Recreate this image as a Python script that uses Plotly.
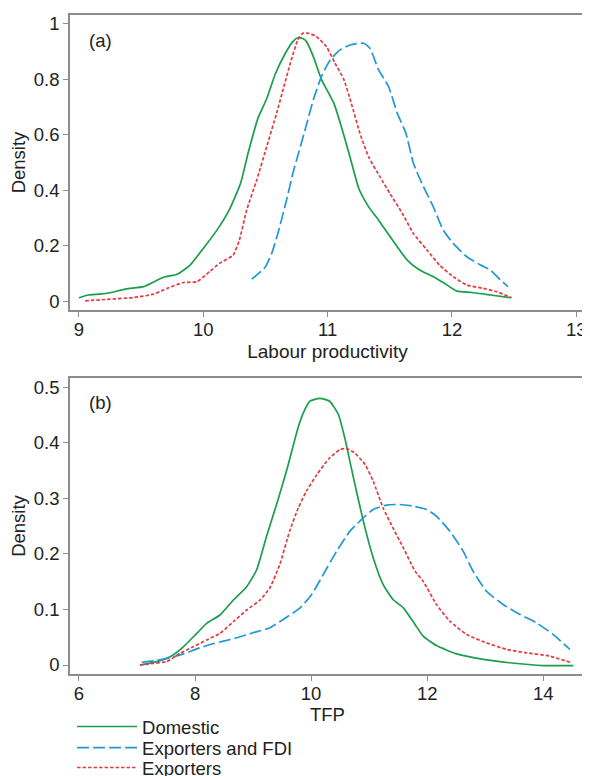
import plotly.graph_objects as go

# ---- Panel (a): Labour productivity ----
a_dom_x = [9.0, 9.075, 9.17, 9.25, 9.38, 9.52, 9.68, 9.79, 9.89, 10.0, 10.11, 10.21, 10.30, 10.36, 10.44, 10.51,
           10.58, 10.66, 10.72, 10.76, 10.80, 10.83, 10.885, 10.95, 11.05, 11.11, 11.18, 11.25, 11.33, 11.41,
           11.475, 11.56, 11.64, 11.74, 11.85, 11.94, 12.04, 12.16, 12.31, 12.47]
a_dom_y = [0.012, 0.022, 0.025, 0.03, 0.044, 0.052, 0.086, 0.097, 0.128, 0.19, 0.256, 0.33, 0.425, 0.533, 0.66, 0.73,
           0.82, 0.894, 0.936, 0.95, 0.947, 0.936, 0.882, 0.80, 0.714, 0.63, 0.52, 0.407, 0.34, 0.292,
           0.25, 0.196, 0.148, 0.112, 0.088, 0.064, 0.036, 0.031, 0.022, 0.012]

a_exp_x = [9.05, 9.25, 9.44, 9.6, 9.71, 9.84, 9.95, 10.05, 10.13, 10.24, 10.29, 10.35, 10.43, 10.51, 10.59, 10.64,
           10.70, 10.76, 10.80, 10.85, 10.91, 10.99, 11.06, 11.13, 11.19, 11.26, 11.33, 11.42, 11.50, 11.60,
           11.69, 11.80, 11.90, 12.01, 12.12, 12.25, 12.36, 12.48]
a_exp_y = [0.001, 0.007, 0.013, 0.025, 0.046, 0.067, 0.07, 0.106, 0.136, 0.166, 0.22, 0.33, 0.437, 0.557, 0.678, 0.76,
           0.858, 0.942, 0.966, 0.966, 0.954, 0.918, 0.858, 0.80, 0.714, 0.605, 0.52, 0.449, 0.389, 0.317,
           0.244, 0.184, 0.13, 0.088, 0.058, 0.046, 0.034, 0.012]

a_fdi_x = [10.39, 10.50, 10.55, 10.60, 10.67, 10.72, 10.77, 10.82, 10.885, 10.95, 11.02, 11.10, 11.18, 11.29, 11.34,
           11.41, 11.49, 11.56, 11.63, 11.69, 11.77, 11.85, 11.93, 12.01, 12.12, 12.23, 12.31, 12.39, 12.45]
a_fdi_y = [0.079, 0.124, 0.172, 0.244, 0.365, 0.46, 0.54, 0.62, 0.726, 0.81, 0.87, 0.906, 0.924, 0.93, 0.912,
           0.834, 0.774, 0.678, 0.605, 0.497, 0.413, 0.34, 0.256, 0.208, 0.16, 0.13, 0.112, 0.076, 0.052]

# ---- Panel (b): TFP ----
b_dom_x = [7.05, 7.34, 7.57, 7.77, 8.03, 8.2, 8.43, 8.66, 8.89, 9.06, 9.23, 9.41, 9.58, 9.78, 9.87, 9.98, 10.15,
           10.32, 10.47, 10.58, 10.73, 10.90, 11.07, 11.24, 11.41, 11.59, 11.79, 11.93, 12.16, 12.51, 12.97,
           13.42, 14.0, 14.52]
b_dom_y = [0.0, 0.006, 0.015, 0.03, 0.057, 0.075, 0.09, 0.117, 0.141, 0.171, 0.231, 0.291, 0.351, 0.429, 0.455,
           0.475, 0.48, 0.475, 0.451, 0.409, 0.337, 0.259, 0.193, 0.145, 0.118, 0.103, 0.073, 0.052, 0.035,
           0.020, 0.01, 0.004, -0.001, -0.001]

b_exp_x = [7.05, 7.28, 7.51, 7.74, 7.97, 8.2, 8.43, 8.66, 8.89, 9.12, 9.29, 9.46, 9.63, 9.78, 9.92, 10.10, 10.32,
           10.50, 10.61, 10.75, 10.93, 11.07, 11.24, 11.41, 11.59, 11.79, 11.93, 12.16, 12.39, 12.68, 13.02,
           13.37, 13.71, 14.11, 14.49]
b_exp_y = [0.0, 0.003, 0.006, 0.021, 0.033, 0.045, 0.057, 0.078, 0.099, 0.117, 0.139, 0.181, 0.241, 0.283, 0.313,
           0.343, 0.373, 0.388, 0.39, 0.382, 0.361, 0.331, 0.283, 0.247, 0.211, 0.169, 0.151, 0.109, 0.079,
           0.055, 0.040, 0.028, 0.022, 0.016, 0.004]

b_fdi_x = [7.08, 7.34, 7.57, 7.80, 8.03, 8.26, 8.49, 8.72, 9.0, 9.29, 9.52, 9.81, 10.01, 10.21, 10.44, 10.67,
           10.90, 11.07, 11.30, 11.53, 11.76, 11.99, 12.16, 12.39, 12.62, 12.79, 13.02, 13.31, 13.60, 13.88,
           14.17, 14.46]
b_fdi_y = [0.005, 0.008, 0.013, 0.02, 0.029, 0.037, 0.043, 0.049, 0.058, 0.067, 0.082, 0.103, 0.127, 0.163, 0.205,
           0.241, 0.265, 0.28, 0.288, 0.289, 0.286, 0.28, 0.268, 0.241, 0.205, 0.169, 0.133, 0.109, 0.091,
           0.076, 0.055, 0.028]

a_xticks = [9, 10, 11, 12, 13]
a_yticks = [0, 0.2, 0.4, 0.6, 0.8, 1]
a_ytext = ["0", "0.2", "0.4", "0.6", "0.8", "1"]
b_xticks = [6, 8, 10, 12, 14]
b_yticks = [0, 0.1, 0.2, 0.3, 0.4, 0.5]
b_ytext = ["0", "0.1", "0.2", "0.3", "0.4", "0.5"]

names = ["Domestic", "Exporters and FDI", "Exporters"]
GREEN = "#1a9e4b"
BLUE = "#2198d6"
RED = "#e23b3f"
FONT = "Liberation Sans"
FS = 18.5
TXT = "#222222"
FRAME = "#8c8c8c"

fig = go.Figure()

def add(x, y, name, color, dash, xa, ya, show, leg):
    fig.add_trace(go.Scatter(x=x, y=y, mode="lines", name=name, showlegend=show, legend=leg,
                             line=dict(color=color, width=1.7, dash=dash, shape="spline", smoothing=0.5),
                             xaxis=xa, yaxis=ya))

add(b_dom_x, b_dom_y, names[0], GREEN, "solid", "x2", "y2", True, "legend")
add(b_fdi_x, b_fdi_y, names[1], BLUE, "12px,4px", "x2", "y2", True, "legend2")
add(b_exp_x, b_exp_y, names[2], RED, "3.5px,2px", "x2", "y2", True, "legend3")
add(a_dom_x, a_dom_y, names[0], GREEN, "solid", "x", "y", False, "legend")
add(a_fdi_x, a_fdi_y, names[1], BLUE, "12px,4px", "x", "y", False, "legend2")
add(a_exp_x, a_exp_y, names[2], RED, "3.5px,2px", "x", "y", False, "legend3")

axis_common = dict(showline=True, mirror=True, linecolor=FRAME, linewidth=1.5, ticks="outside",
                   ticklen=5, tickcolor=FRAME, tickwidth=1, showgrid=False, zeroline=False,
                   automargin=False, tickfont=dict(family=FONT, size=FS, color=TXT))

def leg(yc):
    return dict(x=0.004, y=yc, xanchor="left", yanchor="middle", orientation="v",
                font=dict(family=FONT, size=FS, color=TXT), itemwidth=60,
                bgcolor="rgba(0,0,0,0)", borderwidth=0)

fig.update_layout(
    width=582, height=768,
    margin=dict(l=62, r=5, t=7, b=102, autoexpand=False),
    paper_bgcolor="white", plot_bgcolor="white",
    font=dict(family=FONT, size=FS, color=TXT),
    xaxis=dict(domain=[0, 1], anchor="y", range=[8.928, 13.07], tickvals=a_xticks, ticklabelstandoff=-3,
               ticklabeloverflow="allow",
               title=dict(text="Labour productivity", standoff=6, font=dict(size=19)), **axis_common),
    yaxis=dict(domain=[0.5524, 1], anchor="x", range=[-0.032, 1.032], tickvals=a_yticks, ticktext=a_ytext,
               title=dict(text="Density", standoff=6, font=dict(size=FS)), **axis_common),
    xaxis2=dict(domain=[0, 1], anchor="y2", range=[5.845, 14.72], tickvals=b_xticks, ticklabelstandoff=-3,
                ticklabeloverflow="allow",
                title=dict(text="TFP", standoff=4, font=dict(size=FS)), **axis_common),
    yaxis2=dict(domain=[0, 0.4492], anchor="x2", range=[-0.0162, 0.5168], tickvals=b_yticks, ticktext=b_ytext,
                title=dict(text="Density", standoff=6, font=dict(size=FS)), **axis_common),
    legend=leg(-0.0804),
    legend2=leg(-0.1123),
    legend3=leg(-0.1426),
    annotations=[
        dict(text="(a)", xref="x domain", yref="y domain", x=0.033, y=0.915, xanchor="left",
             yanchor="middle", showarrow=False, font=dict(family=FONT, size=FS, color=TXT)),
        dict(text="(b)", xref="x2 domain", yref="y2 domain", x=0.033, y=0.916, xanchor="left",
             yanchor="middle", showarrow=False, font=dict(family=FONT, size=FS, color=TXT)),
    ],
)

fig.write_html("out.html")
